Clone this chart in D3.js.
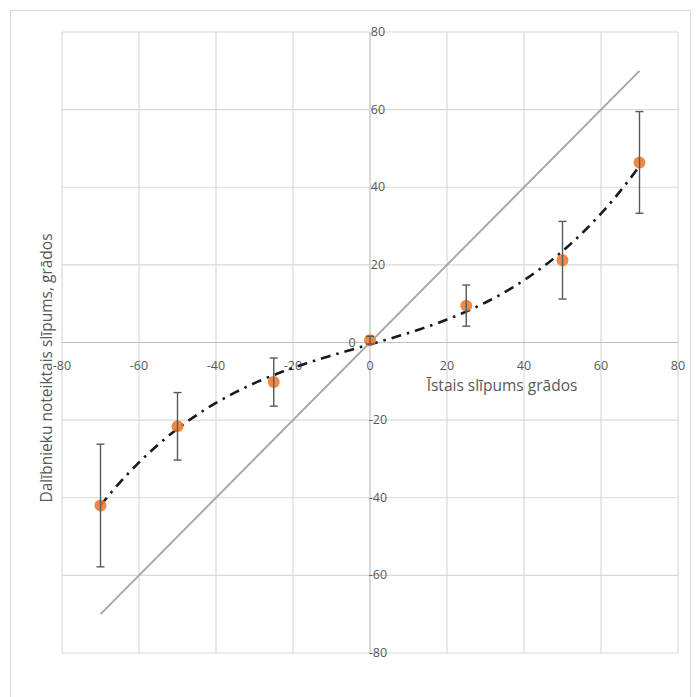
<!DOCTYPE html>
<html>
<head>
<meta charset="utf-8">
<script src="https://cdn.jsdelivr.net/npm/d3@7"></script>
<style>
  body { margin: 0; background: #fff; }
  text { font-family: "Open Sans", sans-serif; fill: #595959; }
</style>
</head>
<body>
<div id="graph"></div>
<script>
// measured slope (x) vs. what participants reported (y)
var trueSlope = [-70, -50, -25, 0, 25, 50, 70];
var guessed   = [-42, -21.6, -10.2, 0.6, 9.5, 21.2, 46.4];
var guessErr  = [15.8, 8.7, 6.2, 1, 5.3, 10, 13.1];
var ticks     = [-80, -60, -40, -20, 0, 20, 40, 60, 80];
var diagonal  = [-70, 70];

var xTitle = "Īstais slīpums grādos";
var yTitle = "Dalībnieku noteiktais slīpums, grādos";

var W = 697, H = 697;

var svg = d3.select("#graph")
  .append("svg")
  .attr("width", W)
  .attr("height", H);

// chart border
svg.append("rect")
  .attr("x", 10.5).attr("y", 10.5)
  .attr("width", 680).attr("height", 700)
  .attr("fill", "none")
  .attr("stroke", "#d9d9d9");

var x = d3.scaleLinear().domain([-80, 80]).range([62, 678]);
var y = d3.scaleLinear().domain([-80, 80]).range([653, 32]);

// gridlines
svg.append("g").selectAll("line.v").data(ticks).enter()
  .append("line")
  .attr("x1", d => x(d)).attr("x2", d => x(d))
  .attr("y1", y(80)).attr("y2", y(-80))
  .attr("stroke", d => d === 0 ? "#bfbfbf" : "#d9d9d9")
  .attr("stroke-width", 1.2);
svg.append("g").selectAll("line.h").data(ticks).enter()
  .append("line")
  .attr("y1", d => y(d)).attr("y2", d => y(d))
  .attr("x1", x(-80)).attr("x2", x(80))
  .attr("stroke", d => d === 0 ? "#bfbfbf" : "#d9d9d9")
  .attr("stroke-width", 1.2);

// x tick labels under the zero line
svg.append("g").selectAll("text").data(ticks).enter()
  .append("text")
  .attr("x", d => x(d))
  .attr("y", y(0) + 27)
  .attr("text-anchor", "middle")
  .attr("font-size", 12.5)
  .text(d => d);

// y tick labels beside the zero line
svg.append("g").selectAll("text").data(ticks).enter()
  .append("text")
  .attr("x", d => d === 0 ? x(0) - 18 : x(0) + 8)
  .attr("y", d => y(d) + 4)
  .attr("text-anchor", "middle")
  .attr("font-size", 12.5)
  .text(d => d);

// y = x reference line
svg.append("line")
  .attr("x1", x(diagonal[0])).attr("y1", y(diagonal[0]))
  .attr("x2", x(diagonal[1])).attr("y2", y(diagonal[1]))
  .attr("stroke", "#a6a6a6")
  .attr("stroke-width", 1.9);

// cubic trendline (least squares, like excel's polynomial order 3)
function polyFit(xs, ys, order) {
  var n = order + 1, A = [], b = [];
  for (var i = 0; i < n; i++) {
    A.push([]);
    for (var j = 0; j < n; j++) A[i].push(d3.sum(xs, v => Math.pow(v, i + j)));
    b.push(d3.sum(xs, (v, k) => ys[k] * Math.pow(v, i)));
  }
  for (var c = 0; c < n; c++) {
    for (var r = c + 1; r < n; r++) {
      var f = A[r][c] / A[c][c];
      for (var k = c; k < n; k++) A[r][k] -= f * A[c][k];
      b[r] -= f * b[c];
    }
  }
  var coef = new Array(n).fill(0);
  for (var r2 = n - 1; r2 >= 0; r2--) {
    var s = b[r2];
    for (var k2 = r2 + 1; k2 < n; k2++) s -= A[r2][k2] * coef[k2];
    coef[r2] = s / A[r2][r2];
  }
  return coef;
}
var coef = polyFit(trueSlope, guessed, 3);
var xmin = d3.min(trueSlope), xmax = d3.max(trueSlope);
var trend = d3.range(0, 141).map(i => {
  var xv = xmin + (xmax - xmin) * i / 140;
  return [xv, coef[0] + coef[1] * xv + coef[2] * xv * xv + coef[3] * xv * xv * xv];
});

svg.append("path")
  .datum(trend)
  .attr("d", d3.line().x(d => x(d[0])).y(d => y(d[1])))
  .attr("fill", "none")
  .attr("stroke", "#1a1a1a")
  .attr("stroke-width", 2.6)
  .attr("stroke-dasharray", "10,6,2.5,6");

// points
var pts = trueSlope.map((d, i) => ({x: d, y: guessed[i], e: guessErr[i]}));

svg.append("g").selectAll("circle").data(pts).enter()
  .append("circle")
  .attr("cx", d => x(d.x))
  .attr("cy", d => y(d.y))
  .attr("r", 6)
  .attr("fill", "#ed7d31")
  .attr("opacity", 0.9);

// error bars
var eb = svg.append("g").attr("stroke", "#595959").attr("stroke-width", 1.4);
pts.forEach(d => {
  eb.append("line")
    .attr("x1", x(d.x)).attr("x2", x(d.x))
    .attr("y1", y(d.y - d.e)).attr("y2", y(d.y + d.e));
  [d.y - d.e, d.y + d.e].forEach(v => {
    eb.append("line")
      .attr("x1", x(d.x) - 4).attr("x2", x(d.x) + 4)
      .attr("y1", y(v)).attr("y2", y(v));
  });
});

// axis titles
svg.append("text")
  .attr("x", 502).attr("y", 391)
  .attr("text-anchor", "middle")
  .attr("font-size", 15.5)
  .text(xTitle);

svg.append("text")
  .attr("transform", "translate(52,368) rotate(-90)")
  .attr("text-anchor", "middle")
  .attr("font-size", 15.5)
  .text(yTitle);
</script>
</body>
</html>
